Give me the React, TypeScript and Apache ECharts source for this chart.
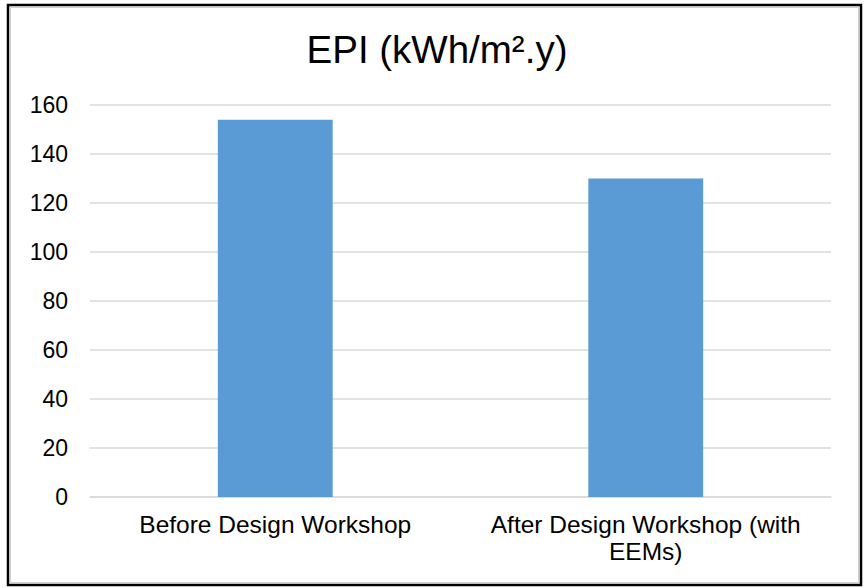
import React, { useEffect, useRef } from "react";
import * as echarts from "echarts";

const titleText = "EPI (kWh/m².y)";
const categories = ["Before Design Workshop", "After Design Workshop (with EEMs)"];
const xTickLabels = ["Before Design Workshop", "After Design Workshop (with\nEEMs)"];
const epiValues = [154, 130];
const yMin = 0;
const yMax = 160;
const yStep = 20;

export default function App() {
  const ref = useRef<HTMLDivElement>(null);
  useEffect(() => {
    if (!ref.current) return;
    const chart = echarts.init(ref.current, null, { renderer: "svg" });
    chart.setOption({
      animation: false,
      backgroundColor: "#ffffff",
      title: {
        text: titleText,
        left: 437,
        textAlign: "center",
        top: 30,
        padding: 0,
        textStyle: {
          fontFamily: "Liberation Sans, Arial, sans-serif",
          fontSize: 38.5,
          fontWeight: "normal",
          color: "#000000",
        },
      },
      grid: { left: 90, right: 33, top: 105, bottom: 91, containLabel: false },
      xAxis: {
        type: "category",
        data: categories,
        axisLine: { show: true, lineStyle: { color: "#d9d9d9", width: 1.5 } },
        axisTick: { show: false },
        axisLabel: {
          interval: 0,
          margin: 14,
          color: "#000000",
          fontFamily: "Liberation Sans, Arial, sans-serif",
          fontSize: 24.5,
          lineHeight: 27,
          align: "center",
          formatter: (_v: string, i: number) => xTickLabels[i],
        },
      },
      yAxis: {
        type: "value",
        min: yMin,
        max: yMax,
        interval: yStep,
        axisLine: { show: false },
        axisTick: { show: false },
        splitLine: { show: true, lineStyle: { color: "#d9d9d9", width: 1.5 } },
        axisLabel: {
          margin: 22,
          color: "#000000",
          fontFamily: "Liberation Sans, Arial, sans-serif",
          fontSize: 23,
        },
      },
      series: [
        {
          type: "bar",
          data: epiValues,
          barWidth: "31%",
          itemStyle: { color: "#5b9bd5" },
        },
      ],
      graphic: [
        {
          type: "rect",
          shape: { x: 8, y: 5, width: 853, height: 580 },
          style: { fill: "none", stroke: "#000000", lineWidth: 2.5 },
          silent: true,
        },
        {
          type: "rect",
          shape: { x: 10.5, y: 7.5, width: 848, height: 575 },
          style: { fill: "none", stroke: "#d0d0d0", lineWidth: 1 },
          silent: true,
        },
      ],
    });
    return () => chart.dispose();
  }, []);
  return (
    <div
      ref={ref}
      style={{ position: "fixed", left: 0, top: 0, width: 864, height: 588 }}
    />
  );
}
